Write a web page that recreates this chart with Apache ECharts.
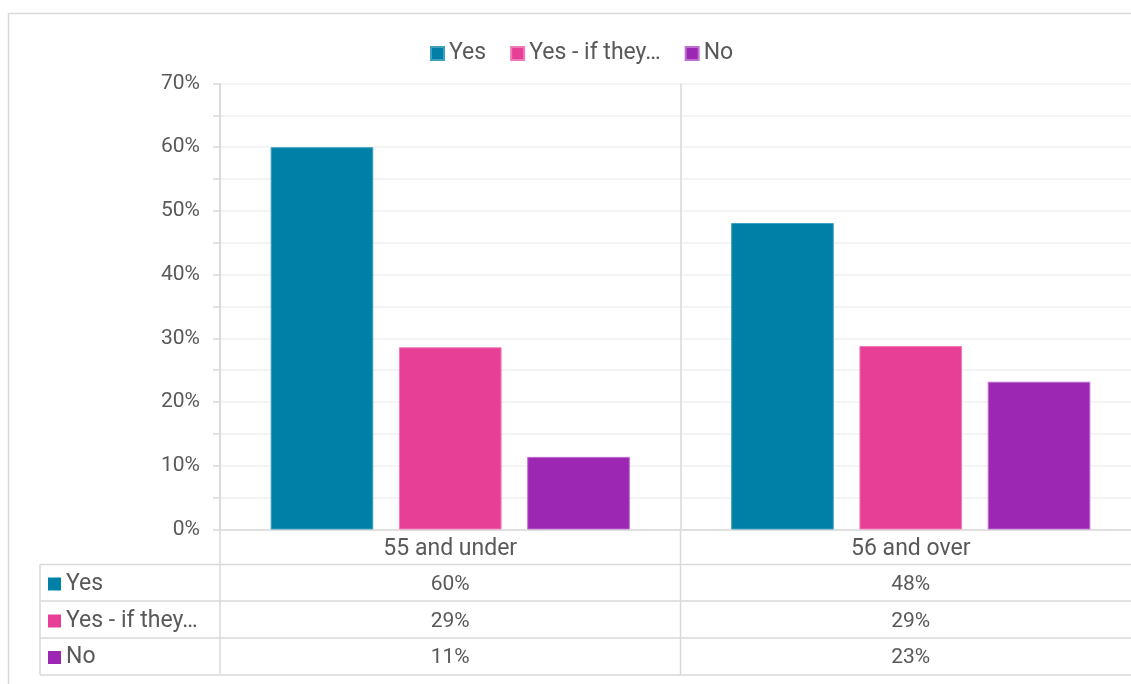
<!DOCTYPE html>
<html>
<head>
<meta charset="utf-8">
<script src="https://cdn.jsdelivr.net/npm/echarts@6/dist/echarts.min.js"></script>
<style>html,body{margin:0;padding:0;background:#fff}#c{width:1131px;height:684px}</style>
</head>
<body>
<div id="c"></div>
<script>
const categories = ['55 and under', '56 and over'];
const seriesNames = ['Yes', 'Yes - if they…', 'No'];
const yesValues = [60.0, 48.1];
const yesIfValues = [28.6, 28.8];
const noValues = [11.4, 23.2];
const yTickValues = [0, 10, 20, 30, 40, 50, 60, 70];
const seriesColors = ['#0080A7', '#E83F96', '#9B27B3'];
const seriesBorders = ['#3fa0c0', '#f07ab8', '#bf6fd0'];

const allValues = [yesValues, yesIfValues, noValues];
const textColor = '#595959';
const lineColor = '#d9d9d9';
const font = 'Roboto, "DejaVu Sans", sans-serif';
const numSize = 21;
const textSize = 23;

const G = { left: 220, top: 83.5, width: 921, height: 446 };
const axisY = G.top + G.height;
const rowCenters = [584, 621, 657.5];
const rowLines = [564.5, 601, 638, 675];

const chart = echarts.init(document.getElementById('c'), null, { renderer: 'canvas' });

function tableAxis(rowIdx, offset) {
  return {
    type: 'category', data: categories, position: 'bottom', offset: offset,
    axisLine: { show: false }, axisTick: { show: false }, splitLine: { show: false },
    axisLabel: {
      interval: 0, margin: 8, fontSize: numSize, lineHeight: 20, color: textColor, fontFamily: font,
      formatter: (v, i) => Math.round(allValues[rowIdx][i]) + '%'
    }
  };
}

const graphics = [
  { type: 'rect', shape: { x: 8.5, y: 13.5, width: 1300, height: 900 }, style: { fill: 'none', stroke: lineColor, lineWidth: 1.5 }, silent: true }
];
rowLines.forEach(y => graphics.push({ type: 'line', shape: { x1: 40, y1: y, x2: 1200, y2: y }, style: { stroke: lineColor, lineWidth: 1.5 }, silent: true }));
graphics.push({ type: 'line', shape: { x1: 40, y1: rowLines[0], x2: 40, y2: rowLines[3] }, style: { stroke: lineColor, lineWidth: 1.5 } });
graphics.push({ type: 'line', shape: { x1: G.left, y1: axisY, x2: G.left, y2: rowLines[3] }, style: { stroke: lineColor, lineWidth: 1.5 } });
graphics.push({ type: 'line', shape: { x1: G.left + G.width / 2, y1: axisY, x2: G.left + G.width / 2, y2: rowLines[3] }, style: { stroke: lineColor, lineWidth: 1.5 } });
seriesNames.forEach((n, i) => {
  graphics.push({ type: 'rect', shape: { x: 48, y: rowCenters[i] - 6.5, width: 13, height: 13 }, style: { fill: seriesColors[i] } });
  graphics.push({ type: 'text', x: 66, y: rowCenters[i], style: { text: n, fontSize: textSize, fontFamily: font, fill: textColor, verticalAlign: 'middle', align: 'left' } });
});

const option = {
  backgroundColor: '#fff',
  animation: false,
  textStyle: { fontFamily: font },
  legend: {
    top: 37, left: 425, icon: 'rect', itemWidth: 13, itemHeight: 13, itemGap: 24,
    textStyle: { fontSize: textSize, color: textColor, fontFamily: font },
    data: seriesNames
  },
  grid: { left: G.left, top: G.top, width: G.width, height: G.height, outerBoundsMode: 'none', containLabel: false },
  xAxis: [
    {
      type: 'category', data: categories, position: 'bottom',
      axisLine: { show: true, lineStyle: { color: lineColor, width: 1.5 } },
      axisTick: { show: false },
      splitLine: { show: true, lineStyle: { color: lineColor, width: 1.5 } },
      axisLabel: { interval: 0, margin: 10, fontSize: textSize, lineHeight: 20, color: textColor, fontFamily: font }
    },
    tableAxis(0, 37),
    tableAxis(1, 74),
    tableAxis(2, 110)
  ],
  yAxis: {
    type: 'value', min: yTickValues[0], max: yTickValues[yTickValues.length - 1], interval: 10,
    axisLine: { show: true, lineStyle: { color: lineColor, width: 1.5 } },
    axisTick: { show: true, length: 7, lineStyle: { color: lineColor, width: 1.5 } },
    minorTick: { show: true, splitNumber: 2, length: 7, lineStyle: { color: lineColor, width: 1.5 } },
    splitLine: { show: true, lineStyle: { color: '#f0f0f0', width: 1.5 } },
    minorSplitLine: { show: true, lineStyle: { color: '#f0f0f0', width: 1.5 } },
    axisLabel: { fontSize: numSize, color: textColor, fontFamily: font, margin: 20, formatter: v => v + '%' }
  },
  series: allValues.map((vals, i) => ({
    name: seriesNames[i], type: 'bar', data: vals, xAxisIndex: 0,
    barGap: '25%', barCategoryGap: '22%',
    itemStyle: { color: seriesColors[i], borderColor: seriesBorders[i], borderWidth: 1 }
  })),
  graphic: graphics
};
chart.setOption(option);
</script>
</body>
</html>
